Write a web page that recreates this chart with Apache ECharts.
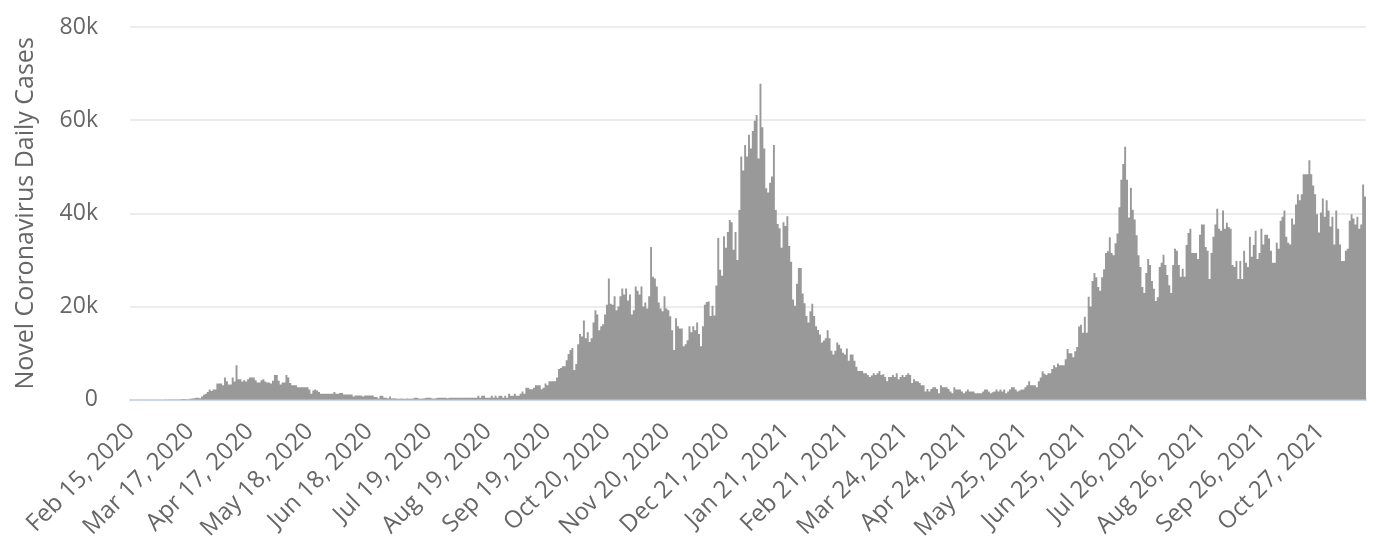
<!DOCTYPE html>
<html>
<head>
<meta charset="utf-8">
<script src="https://cdn.jsdelivr.net/npm/echarts@6/dist/echarts.min.js"></script>
<style>
  html, body { margin: 0; padding: 0; background: #fff; }
  #chart { width: 1382px; height: 543px; }
</style>
</head>
<body>
<div id="chart"></div>
<script>
// daily new cases, one array per month, first day is Feb 15, 2020
const feb2020 = [0,0,0,0,0,0,0,0,0,0,0,0,0,3,4];
const mar2020 = [13,4,11,34,30,48,43,67,48,61,83,134,150,180,120,100,200,250,300,430,460,300,720,1080,1300,1650,2200,1900,2200,2200,3500];
const apr2020 = [3500,3500,3100,4800,4000,3300,3300,4800,3900,7400,4400,4400,3900,4200,3900,4400,4800,4800,4800,4200,3700,3700,4200,4400,3900,3700,3700,3500,4100,5300];
const may2020 = [5300,4100,3300,3700,3700,5300,4800,3600,3100,3100,3100,2700,2700,2700,2700,2700,2700,2200,1300,2000,2200,2000,1650,1300,1300,1300,1300,1300,1300,1300,1650];
const jun2020 = [1300,1300,1450,1450,1150,1150,1150,1150,1150,720,940,940,940,940,720,940,940,940,940,940,580,580,290,860,860,430,430,290,720,250];
const jul2020 = [300,250,200,200,250,200,200,250,200,200,250,440,440,250,200,250,300,440,440,440,250,250,300,440,440,440,440,440,300,440,440];
const aug2020 = [440,440,440,440,440,440,440,440,440,440,440,440,440,880,440,880,880,440,440,440,880,440,880,440,880,880,440,880,440,1300,880];
const sep2020 = [880,1300,880,880,1300,1800,1300,2600,2600,2250,2250,2600,3100,3100,3100,2250,2600,3500,3100,4000,4000,4000,4000,4800,6600,6800,7200,7200,8500,9800];
const oct2020 = [10700,11100,6400,7700,11900,14100,13600,17000,13200,14500,12400,13200,16600,19200,18300,14900,15800,16200,18300,20400,26000,20600,20400,22200,19200,20000,22200,23900,22600,23900,21300];
const nov2020 = [22600,18300,19200,24300,23400,22600,24300,20000,20900,19600,22200,32800,26400,26000,24300,20900,19600,19000,22200,19600,19200,17900,14900,10700,17500,15800,15300,15300,11500,11900];
const dec2020 = [12800,15800,14500,15800,14900,16600,14100,11500,15800,20400,21000,21100,18000,20200,18100,24500,34700,27900,26600,35100,32600,36000,38600,38100,32200,36000,30000,40700,52200,49200,54700];
const jan2021 = [52200,56900,53900,57700,59900,61100,51800,67800,58500,53900,45400,44500,46600,47900,54700,40700,37700,36800,32600,38100,37300,39400,33000,29600,21500,20200,24900,28300,28300,22800,20700];
const feb2021 = [18000,16600,19000,20600,18000,15800,15000,14000,12300,12700,13200,14900,13200,10500,9700,10500,12300,11800,11000,10100,9700,11000,8400,9700,9700,8400,7100,6200];
const mar2021 = [6200,6200,5700,5700,5300,4900,5200,5700,5300,5700,6200,5300,5500,4900,4000,4900,4900,5300,4900,5700,4400,4900,5300,4900,5300,5700,5300,3600,4400,4000,4000];
const apr2021 = [3600,3100,3100,1800,2300,1800,2300,2700,2700,2300,1400,3100,2700,2700,2700,2300,1800,1400,2700,2200,2200,2200,1800,1400,1800,2200,1800,1800,1800,1400];
const may2021 = [1400,1400,1400,1800,2200,2200,1800,1400,1600,1800,2200,1800,2200,1800,2200,1400,1800,2200,2700,2700,2200,1800,2000,2200,2200,2700,3100,4000,3100,3100,3100];
const jun2021 = [2700,4000,4800,6100,5600,5300,5700,5700,6600,7400,7000,7800,7400,7400,7400,8700,10900,10000,10000,9100,10400,11300,15700,16100,14400,17800,14400,22100,20000,25500];
const jul2021 = [27200,26300,24200,23400,26300,28000,31500,31900,34900,31500,31000,33600,35700,41300,47200,50600,54300,47200,39100,45500,40800,38700,35300,31000,28500,24200,22900,27200,30200,28900,25500];
const aug2021 = [23800,21200,22000,28500,29400,31100,28900,26800,24600,22900,28900,32400,32000,28900,26400,28100,26400,33200,35800,36700,31500,31500,31500,30200,35400,37600,37600,32800,32000,25900,31500];
const sep2021 = [35000,37600,41000,36700,36300,40600,36700,38000,37100,36700,28900,28500,29800,25900,29800,25900,32000,29400,28500,35000,30700,33200,36300,30200,31500,36700,33300,35400,35400,34600];
const oct2021 = [32000,29400,29400,33700,32400,38400,39300,40600,35000,33700,33300,38900,37600,41900,44100,42800,44100,48400,48400,48400,51400,48400,46000,44100,39800,35900,40200,43200,39300,42800,40600];
const nov2021 = [37200,39300,33300,40600,36700,33300,29800,29800,32000,32400,38400,39800,38900,37600,39300,36700,37600,46200,43600];

const monthNames = ['Jan','Feb','Mar','Apr','May','Jun','Jul','Aug','Sep','Oct','Nov','Dec'];
const startDay = Date.UTC(2020, 1, 15);

const dailyCases = [].concat(
  feb2020, mar2020, apr2020, may2020, jun2020, jul2020, aug2020, sep2020,
  oct2020, nov2020, dec2020, jan2021, feb2021, mar2021, apr2021, may2021,
  jun2021, jul2021, aug2021, sep2021, oct2021, nov2021
);

// one category per day
const dates = dailyCases.map((v, i) => {
  const d = new Date(startDay + i * 86400000);
  return monthNames[d.getUTCMonth()] + ' ' + d.getUTCDate() + ', ' + d.getUTCFullYear();
});

const chart = echarts.init(document.getElementById('chart'));
const textColor = '#666666';
const font = '"Open Sans", sans-serif';

const option = {
  animation: false,
  grid: {
    left: 130,
    right: 16,
    top: 27,
    bottom: 143
  },
  xAxis: {
    type: 'category',
    data: dates,
    boundaryGap: true,
    axisLine: { lineStyle: { color: '#ccd6eb', width: 2 } },
    axisTick: { show: false },
    axisLabel: {
      interval: 30,
      rotate: 45,
      margin: 28,
      color: textColor,
      fontSize: 24,
      fontFamily: font
    }
  },
  yAxis: {
    type: 'value',
    min: 0,
    max: 80000,
    interval: 20000,
    name: 'Novel Coronavirus Daily Cases',
    nameLocation: 'middle',
    nameGap: 92,
    nameTextStyle: { color: textColor, fontSize: 25, fontFamily: font },
    axisLine: { show: false },
    axisTick: { show: false },
    axisLabel: {
      margin: 32,
      color: textColor,
      fontSize: 23,
      fontFamily: font,
      formatter: v => (v === 0 ? '0' : v / 1000 + 'k')
    },
    splitLine: { lineStyle: { color: '#e6e6e6', width: 1.5 } }
  },
  series: [
    {
      name: 'Daily Cases',
      type: 'bar',
      data: dailyCases,
      large: true,
      largeThreshold: 100,
      barCategoryGap: '0%',
      itemStyle: { color: '#999999' }
    }
  ]
};

chart.setOption(option);
</script>
</body>
</html>
